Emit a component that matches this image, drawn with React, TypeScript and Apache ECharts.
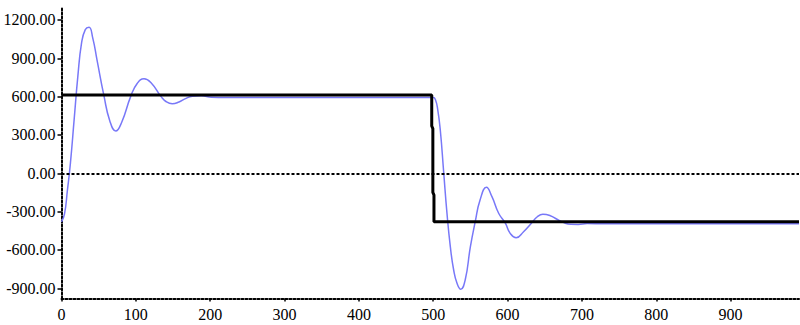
import React, { useEffect, useRef } from "react";
import * as echarts from "echarts";

// Tick labels
const xTickValues = [0, 100, 200, 300, 400, 500, 600, 700, 800, 900];
const yTickValues = [-900, -600, -300, 0, 300, 600, 900, 1200];

// Setpoint (black step line)
const setpointSeries: [number, number][] = [
  [0, 612], [498, 612], [498, 370], [499.5, 350], [499.5, -150],
  [501, -170], [501, -380], [992, -380],
];

// Response (blue damped oscillation)
const responseSeries: [number, number][] = [
  [0, -380], [4, -320], [8, -130], [12, 80], [17, 420], [22, 760],
  [27, 1020], [32, 1125], [37, 1143], [42, 1060], [48, 880], [57, 610],
  [65, 410], [73, 331], [81, 400], [93, 600], [102, 705], [111, 740],
  [121, 705], [134, 600], [141, 560], [149, 545], [158, 558], [166, 582],
  [176, 603], [188, 606], [202, 596], [220, 594], [300, 594], [420, 594],
  [500, 594], [503, 575], [506, 500], [509.5, 339], [514, 13],
  [518.5, -313], [523, -574], [527.5, -757], [532, -861], [537, -908],
  [543, -835], [550, -574], [556.5, -379], [563, -209], [571.5, -110],
  [579, -183], [588, -313], [597, -391], [603.5, -470], [611.5, -505],
  [621.5, -457], [632, -391], [640, -340], [647.5, -321], [657.5, -332],
  [666.5, -360], [675.5, -386], [685, -399], [695, -400], [707, -393],
  [730, -395], [850, -395], [992, -395],
];

const serif = "Liberation Serif";

export default function App() {
  const ref = useRef<HTMLDivElement>(null);
  useEffect(() => {
    if (!ref.current) return;
    const chart = echarts.init(ref.current, null, { renderer: "svg" });
    chart.setOption({
      animation: false,
      backgroundColor: "#ffffff",
      grid: {
        left: 61.5,
        right: 1,
        top: 7.2,
        bottom: 26.5,
        containLabel: false,
        outerBoundsMode: "none",
      },
      xAxis: {
        type: "value",
        min: 0,
        max: 992,
        axisLine: {
          onZero: false,
          lineStyle: { color: "#000", width: 2, type: [2, 2] },
        },
        axisTick: {
          show: true,
          customValues: xTickValues,
          length: 3,
          lineStyle: { color: "#000", width: 1.5 },
        },
        axisLabel: {
          customValues: xTickValues,
          fontFamily: serif,
          fontSize: 16,
          color: "#000",
          margin: 8,
        },
        splitLine: { show: false },
      },
      yAxis: {
        type: "value",
        min: -980,
        max: 1300,
        axisLine: {
          show: true,
          onZero: false,
          lineStyle: { color: "#000", width: 2, type: [2, 2] },
        },
        axisTick: {
          show: true,
          customValues: yTickValues,
          length: 4,
          lineStyle: { color: "#000", width: 1.5 },
        },
        axisLabel: {
          customValues: yTickValues,
          fontFamily: serif,
          fontSize: 16,
          color: "#000",
          margin: 6,
          formatter: (v: number) => v.toFixed(2),
        },
        splitLine: { show: false },
      },
      series: [
        {
          type: "line",
          data: responseSeries,
          smooth: 0.5,
          showSymbol: false,
          symbol: "none",
          lineStyle: { color: "#7878f8", width: 1.5 },
          z: 2,
        },
        {
          type: "line",
          data: setpointSeries,
          showSymbol: false,
          symbol: "none",
          lineStyle: { color: "#000", width: 3 },
          z: 3,
          markLine: {
            silent: true,
            symbol: ["none", "none"],
            label: { show: false },
            lineStyle: { color: "#000", width: 2, type: [3, 2] },
            data: [{ yAxis: 0 }],
          },
        },
      ],
    });
    return () => chart.dispose();
  }, []);
  return (
    <div
      ref={ref}
      style={{ position: "fixed", left: 0, top: 0, width: 800, height: 325 }}
    />
  );
}
